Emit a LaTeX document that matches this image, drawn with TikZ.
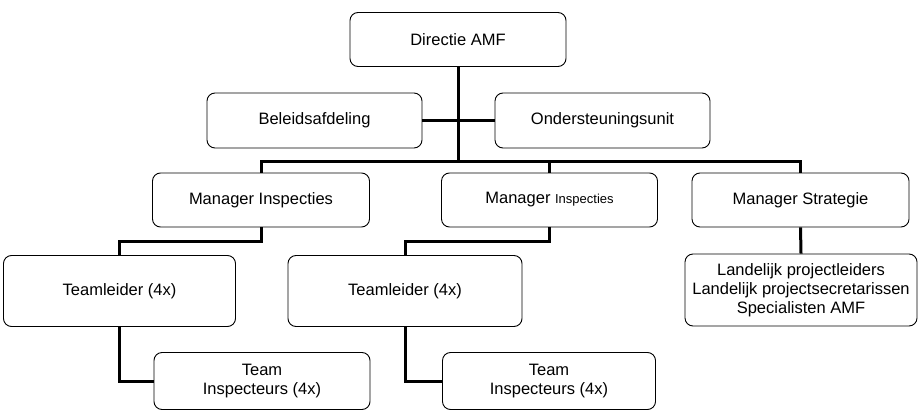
\documentclass[tikz,border=0pt]{standalone}
\usepackage{fontspec}
\setmainfont{Liberation Sans}
\usetikzlibrary{calc}

\begin{document}
\begin{tikzpicture}[x=1pt,y=-1pt,
  box/.style={draw,rounded corners=8pt,line width=.9pt,align=center,
    inner sep=0pt,font=\fontsize{16.5}{19}\selectfont},
  link/.style={line width=3pt}]
  \useasboundingbox (0,0) rectangle (920,412);
  % top
  \node[box,minimum width=216,minimum height=54] (dir) at (458,39.5) {Directie AMF};
  \node[box,minimum width=215,minimum height=55] (beleid) at (314.5,120.5) {Beleidsafdeling};
  \node[box,minimum width=215,minimum height=55] (onder) at (602.5,120.5) {Ondersteuningsunit};
  \coordinate (hub) at (458,161);
  % managers
  \node[box,minimum width=217,minimum height=54] (man1) at (261,200) {Manager Inspecties};
  \node[box,minimum width=216,minimum height=54] (man2) at (549.5,200)
    {Manager {\fontsize{13}{15}\selectfont Inspecties}};
  \node[box,minimum width=217,minimum height=54] (manS) at (800.5,200) {Manager Strategie};
  % teams
  \node[box,minimum width=232,minimum height=71] (tl1) at (119.5,291) {Teamleider (4x)};
  \node[box,minimum width=234,minimum height=71] (tl2) at (405,291) {Teamleider (4x)};
  \node[box,minimum width=232,minimum height=72] (land) at (801,290)
    {Landelijk projectleiders\\Landelijk projectsecretarissen\\Specialisten AMF};
  \node[box,minimum width=216,minimum height=57] (team1) at (262,381) {Team\\Inspecteurs (4x)};
  \node[box,minimum width=213,minimum height=57] (team2) at (549,381) {Team\\Inspecteurs (4x)};
  % lines
  \draw[link] (dir.south) -- (hub);
  \draw[link] (beleid) -- (onder);
  \draw[link] (man1.north) |- (hub) -| (manS.north);
  \draw[link] (man2.north) -- (man2.north |- hub);
  \draw[link] (man1.south) -- ++(0,14) -| (tl1.north);
  \draw[link] (man2.south) -- ++(0,14) -| (tl2.north);
  \draw[link] (manS.south) -- (land.north);
  \draw[link] (tl1.south) |- (team1.west);
  \draw[link] (tl2.south) |- (team2.west);
\end{tikzpicture}
\end{document}
